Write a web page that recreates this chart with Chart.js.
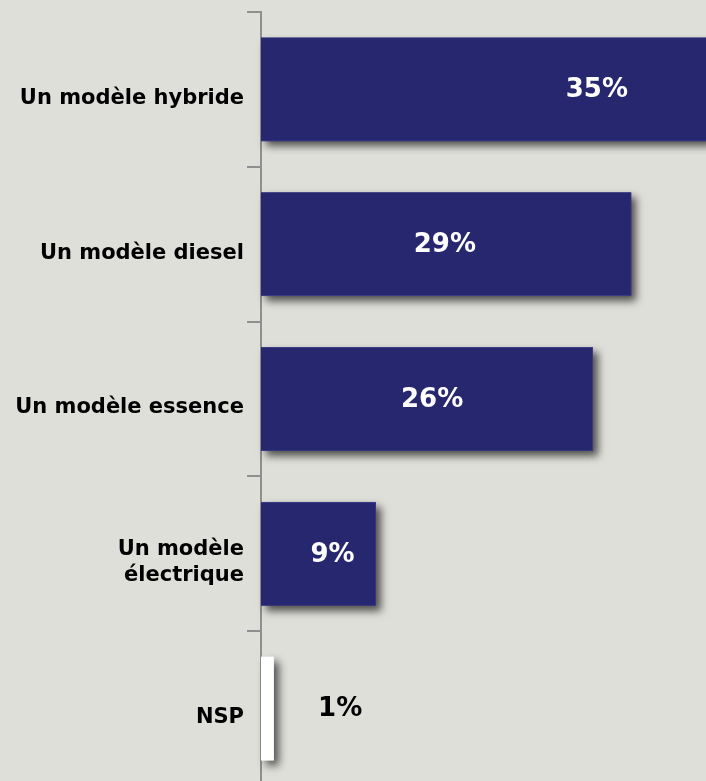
<!DOCTYPE html>
<html>
<head>
<meta charset="utf-8">
<script src="https://cdn.jsdelivr.net/npm/chart.js@4.4.0/dist/chart.umd.min.js"></script>
<style>
  html, body { margin: 0; padding: 0; background: #dfdfda; overflow: hidden; }
  #wrap { position: relative; width: 706px; height: 786px; }
</style>
</head>
<body>
<div id="wrap"><canvas id="chart"></canvas></div>
<script>
// Categories and shares (%)
const categories = ['Un modèle hybride', 'Un modèle diesel', 'Un modèle essence', ['Un modèle', 'électrique'], 'NSP'];
const shares = [35, 29, 26, 9, 1];
const barColors = ['#27276f', '#27276f', '#27276f', '#27276f', '#ffffff'];
const valueLabels = ['35%', '29%', '26%', '9%', '1%'];

const FONT = '"DejaVu Sans", Verdana, sans-serif';

// drop shadow behind the bars, drawn before the bars themselves
const barShadow = {
  id: 'barShadow',
  beforeDatasetsDraw(chart) {
    const ctx = chart.ctx;
    const meta = chart.getDatasetMeta(0);
    ctx.save();
    ctx.shadowColor = 'rgba(0,0,0,0.65)';
    ctx.shadowBlur = 8;
    ctx.shadowOffsetX = 5;
    ctx.shadowOffsetY = 5;
    meta.data.forEach((bar, i) => {
      const p = bar.getProps(['x', 'y', 'base', 'height'], true);
      ctx.fillStyle = barColors[i];
      ctx.fillRect(p.base, p.y - p.height / 2, p.x - p.base, p.height);
    });
    ctx.restore();
  }
};

// category names on the left and the value labels
const labelsPlugin = {
  id: 'labelsPlugin',
  afterDatasetsDraw(chart) {
    const ctx = chart.ctx;
    const y = chart.scales.y;
    const x = chart.scales.x;
    // where each value label sits, in axis units
    const labelAt = [26.3, 14.4, 13.4, 5.6, 6.2];
    ctx.save();
    categories.forEach((cat, i) => {
      const cy = y.getPixelForValue(i);
      const lines = Array.isArray(cat) ? cat : [cat];
      ctx.font = 'bold 21px ' + FONT;
      ctx.fillStyle = '#000';
      ctx.textAlign = 'right';
      ctx.textBaseline = 'middle';
      const lh = 26;
      const y0 = cy + 9 - (lines.length - 1) * lh / 2;
      lines.forEach((l, k) => ctx.fillText(l, 244, y0 + k * lh));

      ctx.font = 'bold 26px ' + FONT;
      ctx.textAlign = 'center';
      ctx.fillStyle = barColors[i] === '#ffffff' ? '#000' : '#fff';
      ctx.fillText(valueLabels[i], x.getPixelForValue(labelAt[i]), cy + 1);
    });
    ctx.restore();
  }
};

new Chart(document.getElementById('chart'), {
  type: 'bar',
  data: {
    labels: categories,
    datasets: [{
      data: shares,
      backgroundColor: barColors,
      borderColor: barColors.map(c => c === '#ffffff' ? '#ffffff' : '#3b3b85'),
      borderWidth: 1,
      barPercentage: 0.67,
      categoryPercentage: 1
    }]
  },
  options: {
    indexAxis: 'y',
    responsive: true,
    maintainAspectRatio: false,
    animation: false,
    layout: { padding: { top: 12, right: 0, bottom: 0, left: 0 } },
    plugins: { legend: { display: false }, tooltip: { enabled: false } },
    scales: {
      x: { display: false, min: 0, max: 34.85 },
      y: {
        afterFit(scale) { scale.width = 261; },
        ticks: { display: false },
        grid: {
          offset: true,
          drawOnChartArea: false,
          drawTicks: true,
          tickLength: 14,
          color: '#8f8f8f',
          lineWidth: 2
        },
        border: { display: true, color: '#8f8f8f', width: 2 }
      }
    }
  },
  plugins: [barShadow, labelsPlugin]
});
</script>
</body>
</html>
